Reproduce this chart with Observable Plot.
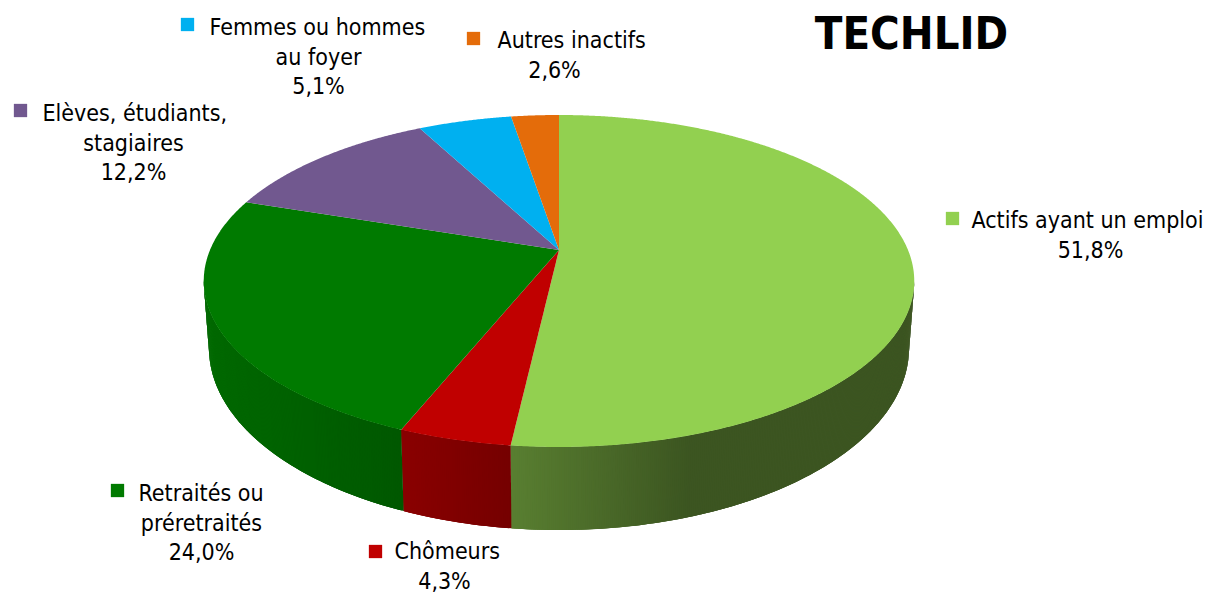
<!DOCTYPE html>
<html><head><meta charset="utf-8">
<script src="https://cdn.jsdelivr.net/npm/d3@7"></script>
<script src="https://cdn.jsdelivr.net/npm/@observablehq/plot@0.6"></script>
<style>html,body{margin:0;padding:0;background:#fff}svg{display:block}</style>
</head><body><div id="chart"></div>
<script>
// Data, clockwise from the top of the pie
const categories = ["Actifs ayant un emploi","Chômeurs","Retraités ou préretraités","Elèves, étudiants, stagiaires","Femmes ou hommes au foyer","Autres inactifs"];
const shares = [51.8,4.3,24.0,12.2,5.1,2.6];
const shareLabels = ["51,8%","4,3%","24,0%","12,2%","5,1%","2,6%"];
const labelLines = [["Actifs ayant un emploi"],["Chômeurs"],["Retraités ou","préretraités"],["Elèves, étudiants,","stagiaires"],["Femmes ou hommes","au foyer"],["Autres inactifs"]];
const colors = ["#92D050","#C00000","#007A00","#71588F","#00B0F0","#E46C0A"];
const chartTitle = "TECHLID";

// Layout (pixels in the 1211x594 frame)
const markerPos = [[952,218],[375,551],[117,490],[20,110],[187,24],[473,38]];
const firstLineX = [971,394,138,42,209,497];
const firstLineY = [220,551,493,113,27,40];
const centerX = [1090,444,201,133,318,554];
const lineStep = 29.7;
const P = {cx:559,cy:250,c:349,a:160.2,p:0.1867};
const B = {cy:348,a:350,b:182};
const topA = 355.5;
const shade = d3.scaleLinear([207,400,510,690,915],[.86,.72,.61,.41,.41]);

function rimTop(t){const u=Math.sin(t),v=-Math.cos(t),d=1-P.p*v;return [P.cx+P.c*u/d,P.cy+P.a*v/d,v];}
function rimBottom(t){const [x]=rimTop(t);const dx=(x-P.cx)*B.a/topA;return [P.cx+dx,B.cy+B.b*Math.sqrt(Math.max(0,1-(dx/B.a)**2))];}

const sum=d3.sum(shares);
let acc=0;
const sectors=[],strips=[];
shares.forEach((s,i)=>{
  const t0=acc/sum*2*Math.PI; acc+=s; const t1=acc/sum*2*Math.PI;
  const n=Math.max(3,Math.ceil((t1-t0)/0.005));
  const ts=d3.range(n+1).map(k=>t0+(t1-t0)*k/n);
  ts.forEach(t=>{const [x,y]=rimTop(t);sectors.push({slice:categories[i],x1:x,y1:y,x2:P.cx,y2:P.cy,fill:colors[i]});});
  for(let k=0;k<n;k++){
    const a=ts[k],b=ts[Math.min(n,k+3)];   // strips overlap the next one so no seams show
    const ta=rimTop(a),tm=rimTop(ts[k+1]);
    if(ta[2]<P.p||tm[2]<P.p) continue;
    const tb=rimTop(b),ba=rimBottom(a),bb=rimBottom(b);
    const c=d3.rgb(colors[i]);const f=shade((ta[0]+tm[0])/2);
    const col=d3.rgb(c.r*f,c.g*f,c.b*f).formatHex();
    const id=`${i}-${k}`;
    strips.push({id,x1:ta[0],y1:ta[1],x2:ba[0],y2:ba[1],fill:col},{id,x1:tb[0],y1:tb[1],x2:bb[0],y2:bb[1],fill:col});
  }
});

const markers=categories.map((c,i)=>({x:markerPos[i][0],y:markerPos[i][1],fill:colors[i]}));
const starts=[],centers=[];
categories.forEach((c,i)=>{
  const lines=labelLines[i];
  starts.push({x:firstLineX[i],y:firstLineY[i],t:lines[0]});
  lines.slice(1).forEach((l,k)=>centers.push({x:centerX[i],y:firstLineY[i]+lineStep*(k+1),t:l}));
  centers.push({x:centerX[i],y:firstLineY[i]+lineStep*lines.length,t:shareLabels[i]});
});
const font="DejaVu Sans Condensed, DejaVu Sans";
const fs=23;
const plot=Plot.plot({
  width:1211,height:594,margin:0,
  style:{background:"#fff",overflow:"hidden"},
  x:{domain:[0,1211],range:[0,1211],axis:null},
  y:{domain:[594,0],range:[594,0],axis:null},
  marks:[
    Plot.area(strips,{x1:"x1",y1:"y1",x2:"x2",y2:"y2",z:"id",fill:"fill"}),
    Plot.area(sectors,{x1:"x1",y1:"y1",x2:"x2",y2:"y2",z:"slice",fill:"fill"}),
    Plot.dot(markers,{x:"x",y:"y",symbol:"square",r:7.5,fill:"fill"}),
    Plot.text(starts,{x:"x",y:"y",text:"t",textAnchor:"start",fontFamily:font,fontSize:fs,fill:"#000"}),
    Plot.text(centers,{x:"x",y:"y",text:"t",textAnchor:"middle",fontFamily:font,fontSize:fs,fill:"#000"}),
    Plot.text([chartTitle],{x:()=>911,y:()=>34,text:d=>d,textAnchor:"middle",fontFamily:font,fontWeight:"bold",fontSize:45,fill:"#000"})
  ]
});
document.getElementById("chart").append(plot);
</script></body></html>
